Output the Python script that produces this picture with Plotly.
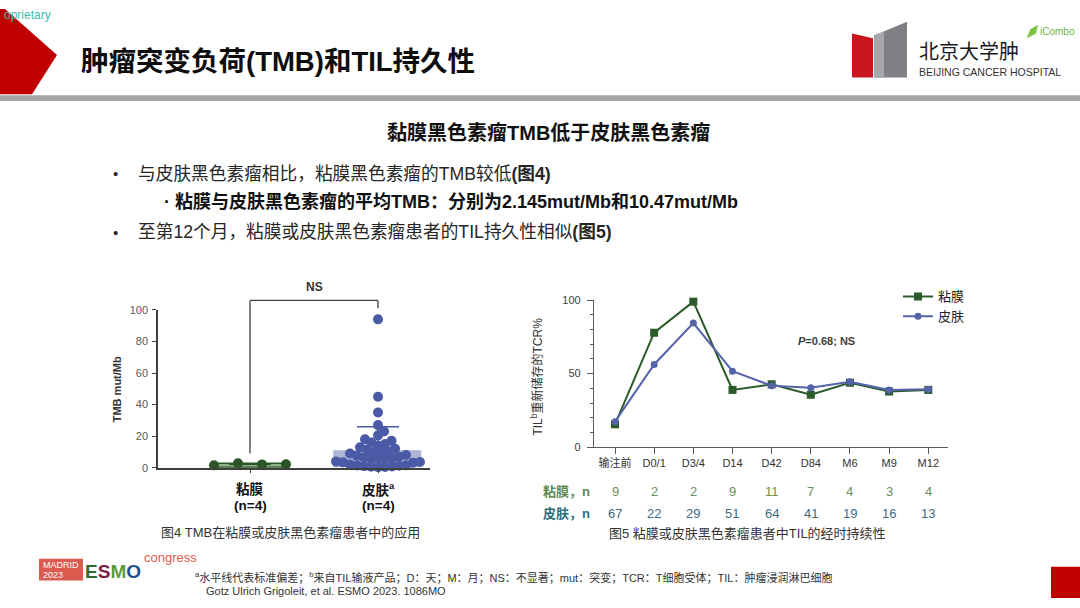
import numpy as np
import plotly.graph_objects as go

W, H = 1080, 608

# ------------------------------------------------------------------ data
tmb_groups = ["粘膜", "皮肤<sup>a</sup>"]
tmb_group_n = ["(n=4)", "(n=4)"]
tmb_mean = [2.145, 10.47]
tmb_sd = [0.4, 15.5]
mucosa_tmb = [1.5, 2.8, 2.1, 2.18]
skin_tmb = [94, 45, 35, 27, 23, 20.5, 18, 17, 16, 15, 14, 13, 12, 11.5, 10.5, 10, 9.5, 9,
            8, 7.5, 7, 6.5, 6.2, 6, 5.7, 5.5, 4.0, 3.6, 3.4, 3.2, 2.0, 1.6, 1.4, 1.2,
            1.0, 0.8, 0.6, 0.5, 0.3]

til_timepoints = ["输注前", "D0/1", "D3/4", "D14", "D42", "D84", "M6", "M9", "M12"]
til_mucosa = [15.5, 77.8, 98.9, 38.9, 42.7, 35.6, 43.8, 37.8, 38.9]
til_skin = [17.3, 56.2, 84.4, 51.6, 41.8, 40.4, 44.4, 38.9, 39.3]
n_mucosa = [9, 2, 2, 9, 11, 7, 4, 3, 4]
n_skin = [67, 22, 29, 51, 64, 41, 19, 16, 13]

# ------------------------------------------------------------------ style / layout constants
FONT = "Liberation Sans, Arial, Noto Sans CJK SC, sans-serif"
GREEN = "#2A5526"
BLUE = "#4B5AA6"


def path(points):
    return "M " + " L ".join(f"{x / W:.5f},{1 - y / H:.5f}" for x, y in points) + " Z"


# left chart geometry (pixels)
L_X0, L_X1 = 158, 430
L_Y0, L_Y1 = 471, 310            # value 0 / value 100
L_PPU_X = 128.0                  # px per category unit
L_RANGE = [1 - (250 - L_X0) / L_PPU_X, 2 + (L_X1 - 378) / L_PPU_X]
L_PPU_Y = (L_Y0 - L_Y1) / 100.0

# right chart geometry
R_X0, R_X1 = 594, 948
R_Y0, R_Y1 = 450, 300
R_PPU_X = (928.3 - 615) / 8
R_RANGE = [-(615 - R_X0) / R_PPU_X, 8 + (R_X1 - 928.3) / R_PPU_X]


def swarm_offsets(values, ppu_y, min_dist, step=0.5):
    vals = np.asarray(values, dtype=float)
    offs = np.zeros(len(vals))
    placed = []
    for i in np.argsort(vals):
        y = vals[i] * ppu_y
        k = 0
        found = None
        while found is None:
            cands = [0.0] if k == 0 else [k * step, -k * step]
            for c in cands:
                if all((c - px) ** 2 + (y - py) ** 2 >= min_dist ** 2 for px, py in placed):
                    found = c
                    break
            k += 1
        offs[i] = found
        placed.append((found, y))
    return offs


skin_x = 2 + swarm_offsets(skin_tmb, L_PPU_Y, 7.0) / L_PPU_X
mucosa_x = 1 + (np.arange(len(mucosa_tmb)) - (len(mucosa_tmb) - 1) / 2) * 24 / L_PPU_X

fig = go.Figure()

# ---- left chart: bars (mean), SD, dots
fig.add_trace(go.Bar(
    x=[1, 2], y=tmb_mean, width=[0.58, 0.68],
    marker=dict(color=["rgba(110,150,100,0.75)", "rgba(75,90,166,0.45)"],
                line=dict(color=[GREEN, "rgba(0,0,0,0)"], width=1.5)),
    xaxis="x", yaxis="y", showlegend=False, hoverinfo="skip"))
for i, col in enumerate([GREEN, BLUE]):
    fig.add_trace(go.Scatter(
        x=[i + 1], y=[tmb_mean[i]], mode="markers",
        marker=dict(size=1, opacity=0),
        error_y=dict(type="data", symmetric=False, array=[tmb_sd[i]], arrayminus=[0],
                     width=21, thickness=1.5, color=col),
        xaxis="x", yaxis="y", showlegend=False, hoverinfo="skip"))
fig.add_trace(go.Scatter(
    x=mucosa_x, y=mucosa_tmb, mode="markers",
    marker=dict(size=10, color=GREEN), xaxis="x", yaxis="y",
    showlegend=False, cliponaxis=False))
fig.add_trace(go.Scatter(
    x=skin_x, y=skin_tmb, mode="markers",
    marker=dict(size=10, color=BLUE), xaxis="x", yaxis="y",
    showlegend=False, cliponaxis=False))

# ---- right chart: lines
fig.add_trace(go.Scatter(
    x=list(range(len(til_timepoints))), y=til_mucosa, mode="lines+markers", name="粘膜",
    line=dict(color="#2B5A2B", width=2), marker=dict(symbol="square", size=8, color="#2B5A2B"),
    xaxis="x2", yaxis="y2", cliponaxis=False))
fig.add_trace(go.Scatter(
    x=list(range(len(til_timepoints))), y=til_skin, mode="lines+markers", name="皮肤",
    line=dict(color="#5563AA", width=2), marker=dict(symbol="circle", size=7, color="#5563AA"),
    xaxis="x2", yaxis="y2", cliponaxis=False))

axis_common = dict(showgrid=False, zeroline=False, showline=True, fixedrange=True)

fig.update_layout(
    width=W, height=H, margin=dict(l=0, r=0, t=0, b=0),
    paper_bgcolor="white", plot_bgcolor="rgba(0,0,0,0)",
    font=dict(family=FONT, color="#262626"),
    bargap=0,
    xaxis=dict(**axis_common, domain=[L_X0 / W, L_X1 / W], range=L_RANGE,
               linecolor="#404040", linewidth=1.5, tickvals=[1, 2], ticks="outside",
               ticklen=4, tickcolor="#404040", showticklabels=False),
    yaxis=dict(**axis_common, domain=[1 - L_Y0 / H, 1 - L_Y1 / H], range=[0, 100],
               linecolor="#404040", linewidth=1.5, tickvals=[0, 20, 40, 60, 80, 100],
               ticks="outside", ticklen=4, tickcolor="#404040",
               tickfont=dict(size=11, color="#595959"), ticklabelstandoff=2),
    xaxis2=dict(**axis_common, domain=[R_X0 / W, R_X1 / W], range=R_RANGE, anchor="y2",
                linecolor="#595959", linewidth=1.2, tickvals=list(range(len(til_timepoints))),
                ticktext=til_timepoints, ticks="outside", ticklen=6, tickcolor="#595959",
                tickfont=dict(size=11, color="#333333")),
    yaxis2=dict(**axis_common, domain=[1 - R_Y0 / H, 1 - R_Y1 / H], range=[0, 100], anchor="x2",
                linecolor="#595959", linewidth=1.2, tickvals=[0, 50, 100], ticks="outside",
                ticklen=6, tickcolor="#595959", tickfont=dict(size=11, color="#404040"),
                ticklabelstandoff=4,
                minor=dict(dtick=10, ticks="outside", ticklen=3, tickcolor="#595959")),
    legend=dict(x=898 / W, y=1 - 281 / H, xanchor="left", yanchor="top",
                font=dict(size=13, color="#222222"), bgcolor="rgba(0,0,0,0)",
                itemwidth=30, tracegroupgap=0),
)

# ------------------------------------------------------------------ shapes
shapes = []
shapes.append(dict(type="path", xref="paper", yref="paper",
                   path=path([(0, 3), (5, 3), (57, 50), (32, 90), (0, 90)]),
                   fillcolor="#C00000", line=dict(width=0), layer="below"))
shapes.append(dict(type="rect", xref="paper", yref="paper", x0=0, x1=1,
                   y0=1 - 97 / H, y1=1 - 91 / H, fillcolor="#A6A6A6", line=dict(width=0)))
# hospital logo
shapes.append(dict(type="path", xref="paper", yref="paper",
                   path=path([(852, 28), (873, 33), (873, 73), (852, 73)]),
                   fillcolor="#C8161E", line=dict(width=0)))
shapes.append(dict(type="path", xref="paper", yref="paper",
                   path=path([(874, 30), (907, 16), (907, 73), (874, 73)]),
                   fillcolor="#7E8083", line=dict(width=0)))
shapes.append(dict(type="path", xref="paper", yref="paper",
                   path=path([(874, 30), (884, 26), (884, 73), (874, 73)]),
                   fillcolor="#A5A7AA", line=dict(width=0)))
# icombo leaf
shapes.append(dict(type="path", xref="paper", yref="paper",
                   path=path([(1027, 33), (1030, 24), (1038, 19), (1036, 28)]),
                   fillcolor="#7DC242", line=dict(width=0)))
# ESMO box + bottom-right square
shapes.append(dict(type="rect", xref="paper", yref="paper", x0=39 / W, x1=83 / W,
                   y0=1 - 586 / H, y1=1 - 564 / H, fillcolor="#DC5A4E", line=dict(width=0)))
shapes.append(dict(type="rect", xref="paper", yref="paper", x0=1051 / W, x1=1,
                   y0=1 - 604 / H, y1=1 - 572 / H, fillcolor="#C00000", line=dict(width=0)))


# NS bracket (left chart, positions from the left axes mapping)
def lx(v):
    return (L_X0 + (v - L_RANGE[0]) * L_PPU_X) / W


def ly(v):
    return 1 - (L_Y0 - v * L_PPU_Y) / H


for xa, ya, xb, yb in [(1, 9, 1, 106), (1, 106, 2, 106), (2, 106, 2, 101)]:
    shapes.append(dict(type="line", xref="paper", yref="paper", x0=lx(xa), y0=ly(ya),
                       x1=lx(xb), y1=ly(yb), line=dict(color="#404040", width=1.3)))
fig.update_layout(shapes=shapes)

# ------------------------------------------------------------------ annotations
ann = []


def text(x, y, s, size, color="#262626", xanchor="left", bold=False, family=FONT):
    if bold:
        s = f"<b>{s}</b>"
    ann.append(dict(x=x / W, y=1 - y / H, xref="paper", yref="paper", text=s, showarrow=False,
                    xanchor=xanchor, yanchor="middle", font=dict(size=size, color=color, family=family)))


text(2, 9, "oprietary", 12, color="#3BBFAD")
text(79, 57, "肿瘤突变负荷(TMB)和TIL持久性", 27.5, color="#0D0D0D", bold=True)
text(917, 47, "北京大学肿", 20, color="#1A1A1A")
text(917, 67, "BEIJING CANCER HOSPITAL", 10.5, color="#333333")
text(1038, 26, "iCombo", 10, color="#6DB33F")

text(548, 130, "黏膜黑色素瘤TMB低于皮肤黑色素瘤", 20, color="#111111", xanchor="center", bold=True)
text(111, 171, "•", 15, color="#262626")
text(136, 171, "与皮肤黑色素瘤相比，粘膜黑色素瘤的TMB较低<b>(图4)</b>", 17.7)
text(162, 200, "· 粘膜与皮肤黑色素瘤的平均TMB：分别为2.145mut/Mb和10.47mut/Mb", 18, bold=True, color="#111111")
text(111, 231, "•", 15, color="#262626")
text(136, 231, "至第12个月，粘膜或皮肤黑色素瘤患者的TIL持久性相似<b>(图5)</b>", 17.7)

# left chart texts
ann.append(dict(x=1.5, y=1 - 287 / H, xref="x", yref="paper", text="<b>NS</b>", showarrow=False,
                xanchor="center", yanchor="middle", font=dict(size=12, color="#333333", family=FONT)))
ann.append(dict(x=117 / W, y=1 - 391 / H, xref="paper", yref="paper", text="<b>TMB mut/Mb</b>",
                showarrow=False, textangle=-90, xanchor="center", yanchor="middle",
                font=dict(size=11, color="#333333", family=FONT)))
for i, (g, n) in enumerate(zip(tmb_groups, tmb_group_n)):
    ann.append(dict(x=i + 1, y=1 - 493 / H, xref="x", yref="paper", text=f"<b>{g}</b>",
                    showarrow=False, xanchor="center", yanchor="middle",
                    font=dict(size=13.5, color="#111111", family=FONT)))
    ann.append(dict(x=i + 1, y=1 - 510 / H, xref="x", yref="paper", text=f"<b>{n}</b>",
                    showarrow=False, xanchor="center", yanchor="middle",
                    font=dict(size=13.5, color="#111111", family=FONT)))
text(290, 537, "图4 TMB在粘膜或皮肤黑色素瘤患者中的应用", 13, color="#333333", xanchor="center")

# right chart texts
ann.append(dict(x=537 / W, y=1 - 378 / H, xref="paper", yref="paper", text="TIL<sup>b</sup>重新储存的TCR%",
                showarrow=False, textangle=-90, xanchor="center", yanchor="middle",
                font=dict(size=12, color="#333333", family=FONT)))
ann.append(dict(x=5.41, y=72.2, xref="x2", yref="y2", text="<b><i>P</i>=0.68; NS</b>",
                showarrow=False, xanchor="center", yanchor="middle",
                font=dict(size=11, color="#404040", family=FONT)))
text(541, 495, "粘膜，n", 13, color="#5E8A50", bold=True)
text(541, 518, "皮肤，n", 13, color="#2C6E80", bold=True)
for i in range(len(til_timepoints)):
    ann.append(dict(x=i, y=1 - 495 / H, xref="x2", yref="paper", text=str(n_mucosa[i]), showarrow=False,
                    xanchor="center", yanchor="middle", font=dict(size=13, color="#6A8F5E", family=FONT)))
    ann.append(dict(x=i, y=1 - 518 / H, xref="x2", yref="paper", text=str(n_skin[i]), showarrow=False,
                    xanchor="center", yanchor="middle", font=dict(size=13, color="#3E6A86", family=FONT)))
text(748, 538, "图5 粘膜或皮肤黑色素瘤患者中TIL的经时持续性", 13, color="#333333", xanchor="center")

# footer
text(41, 570, "MADRID", 9, color="white")
text(41, 580, "2023", 9, color="white")
text(83, 577, "<b><span style='color:#2D6A2D'>E</span><span style='color:#7A1E4C'>S</span>"
     "<span style='color:#5C9A3A'>M</span><span style='color:#1F4E8C'>O</span></b>", 19)
text(142, 563, "congress", 13, color="#DC5A4E")
text(193, 582, "<sup>a</sup>水平线代表标准偏差；<sup>b</sup>来自TIL输液产品；D：天；M：月；NS：不显著；"
     "mut：突变；TCR：T细胞受体；TIL：肿瘤浸润淋巴细胞", 11, color="#333333")
text(204, 597, "Gotz Ulrich Grigoleit, et al. ESMO 2023. 1086MO", 11, color="#333333")

fig.update_layout(annotations=ann)
fig.write_html("out.html")
